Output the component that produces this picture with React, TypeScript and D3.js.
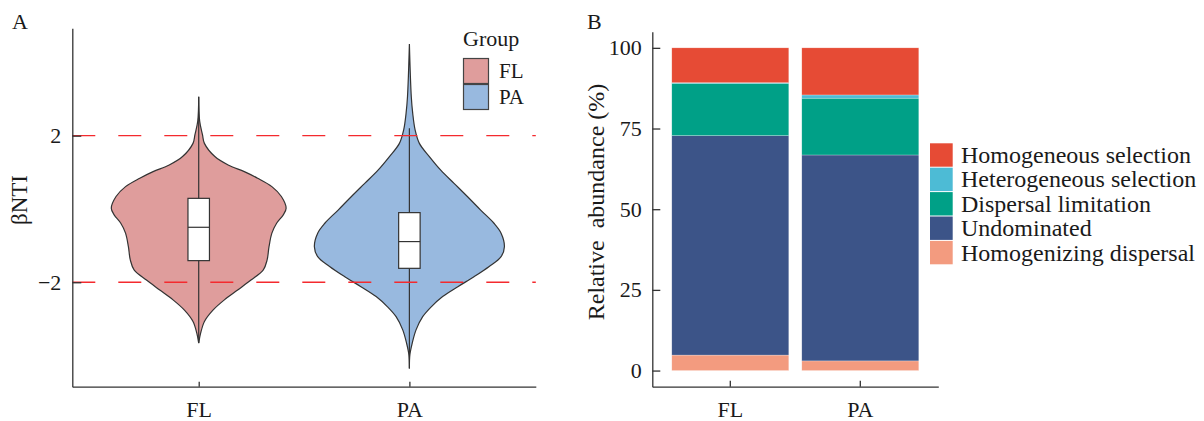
import React, { useRef, useEffect } from 'react';
import * as d3 from 'd3';

// ---- panel A data (violin profile) ----
const groups = ['FL', 'PA'];
const flViolinValues = [3.06, 2.40, 2.02, 1.79, 1.43, 1.20, 1.02, 0.84, 0.61, 0.34, 0.02, -0.16, -0.39, -0.66, -1.03, -1.39, -1.66, -1.94, -2.21, -2.48, -2.76, -3.07, -3.39, -3.66];
const flViolinDensity = [0, 0.01, 0.04, 0.06, 0.17, 0.31, 0.48, 0.62, 0.77, 0.87, 0.92, 0.89, 0.82, 0.77, 0.74, 0.72, 0.68, 0.55, 0.41, 0.27, 0.15, 0.06, 0.02, 0];
const paViolinValues = [4.50, 3.06, 2.61, 2.16, 1.79, 1.43, 1.06, 0.70, 0.34, -0.03, -0.39, -0.66, -1.03, -1.30, -1.57, -1.85, -2.12, -2.39, -2.67, -2.94, -3.30, -3.66, -3.98, -4.35];
const paViolinDensity = [0, 0.02, 0.035, 0.06, 0.105, 0.21, 0.33, 0.47, 0.61, 0.75, 0.89, 0.965, 1.0, 0.965, 0.84, 0.68, 0.51, 0.35, 0.23, 0.14, 0.07, 0.03, 0.005, 0];
const boxQ1 = [-1.41, -1.62];
const boxMedian = [-0.50, -0.89];
const boxQ3 = [0.29, -0.10];
const whiskerLow = [-3.66, -4.35];
const whiskerHigh = [3.06, 2.2];
const thresholds = [2, -2];
const yTicksA = [2, -2];
const groupColors = ['#DF9D9C', '#98B9DF'];

// ---- panel B data ----
const processes = ['Homogenizing dispersal', 'Undominated', 'Dispersal limitation', 'Heterogeneous selection', 'Homogeneous selection'];
const flShares = [4.8, 68.0, 16.2, 0.2, 10.8];
const paShares = [3.0, 63.8, 17.6, 1.0, 14.6];
const processColors = ['#F39B7F', '#3C5488', '#00A087', '#4DBBD5', '#E64B35'];
const yTicksB = [0, 25, 50, 75, 100];

const FONT = '"Liberation Serif", "Times New Roman", serif';
const INK = '#333';

const App = () => {
    const svgRef = useRef<SVGSVGElement>(null);

    useEffect(() => {
        const svg = d3.select(svgRef.current);
        svg.selectAll('*').remove();
        svg.style('font-family', FONT);

        // ================= Panel A =================
        const xA = d3.scalePoint().domain(groups).range([72.3, 535.8]).padding(0.6);
        const yA = d3.scaleLinear().domain([-4.85, 4.93]).range([386.7, 28.3]);
        const step = xA.step();
        const wScale = d3.scaleLinear().domain([0, 1]).range([0, 0.451 * step]);
        const boxW = 0.102 * step;

        const violins = [
            groups[0] && flViolinValues.map((v, i) => ({ v, d: flViolinDensity[i] })),
            paViolinValues.map((v, i) => ({ v, d: paViolinDensity[i] })),
        ];

        const gA = svg.append('g');
        groups.forEach((grp, gi) => {
            const cx = xA(grp);
            const area = d3.area<any>()
                .y(d => yA(d.v))
                .x0(d => cx - wScale(d.d))
                .x1(d => cx + wScale(d.d))
                .curve(d3.curveCatmullRom);
            gA.append('path')
                .datum(violins[gi])
                .attr('d', area)
                .attr('fill', groupColors[gi])
                .attr('stroke', INK)
                .attr('stroke-width', 1.2);
            // whisker
            gA.append('line')
                .attr('x1', cx).attr('x2', cx)
                .attr('y1', yA(whiskerHigh[gi])).attr('y2', yA(whiskerLow[gi]))
                .attr('stroke', INK).attr('stroke-width', 1.2);
            // box
            gA.append('rect')
                .attr('x', cx - boxW / 2)
                .attr('y', yA(boxQ3[gi]))
                .attr('width', boxW)
                .attr('height', yA(boxQ1[gi]) - yA(boxQ3[gi]))
                .attr('fill', 'white')
                .attr('stroke', INK)
                .attr('stroke-width', 1.2);
            gA.append('line')
                .attr('x1', cx - boxW / 2).attr('x2', cx + boxW / 2)
                .attr('y1', yA(boxMedian[gi])).attr('y2', yA(boxMedian[gi]))
                .attr('stroke', INK).attr('stroke-width', 1.2);
        });

        // threshold lines
        gA.selectAll('.thr')
            .data(thresholds)
            .enter()
            .append('line')
            .attr('x1', xA.range()[0]).attr('x2', xA.range()[1])
            .attr('y1', d => yA(d)).attr('y2', d => yA(d))
            .attr('stroke', '#F42A2E')
            .attr('stroke-width', 1.4)
            .attr('stroke-dasharray', '23,23');

        const styleAxis = (ax: any) => {
            ax.select('.domain').attr('stroke', INK).attr('stroke-width', 1.3);
            ax.selectAll('.tick line').attr('stroke', INK).attr('stroke-width', 1.3);
            ax.selectAll('.tick text').attr('fill', '#1a1a1a').style('font-family', FONT).style('font-size', '22px');
        };

        const axAy = gA.append('g')
            .attr('transform', `translate(${xA.range()[0]},0)`)
            .call(d3.axisLeft(yA).tickValues(yTicksA).tickSize(-9).tickSizeOuter(0).tickPadding(11)
                .tickFormat(d => (d < 0 ? '\u2212' : '') + Math.abs(d)));
        styleAxis(axAy);

        const axAx = gA.append('g')
            .attr('transform', `translate(0,${yA.range()[0]})`)
            .call(d3.axisBottom(xA).tickSize(-5).tickSizeOuter(0));
        styleAxis(axAx);
        axAx.selectAll('.tick text').attr('dy', null).attr('y', 30.3);

        gA.append('text')
            .attr('transform', `translate(27,200) rotate(-90)`)
            .attr('text-anchor', 'middle')
            .style('font-size', '23px')
            .attr('fill', '#1a1a1a')
            .text('βNTI');

        gA.append('text').attr('x', 12).attr('y', 29).style('font-size', '22px').attr('fill', '#1a1a1a').text('A');

        // legend A
        const legA = gA.append('g').attr('transform', 'translate(463,0)');
        legA.append('text').attr('x', 0).attr('y', 46).style('font-size', '22px').attr('fill', '#1a1a1a').text('Group');
        groups.forEach((grp, i) => {
            legA.append('rect')
                .attr('x', 0.5).attr('y', 58.5 + i * 26)
                .attr('width', 25).attr('height', 25)
                .attr('fill', groupColors[i])
                .attr('stroke', '#444').attr('stroke-width', 1.2);
            legA.append('text')
                .attr('x', 36).attr('y', 71 + i * 26)
                .attr('dominant-baseline', 'central')
                .style('font-size', '21px').attr('fill', '#1a1a1a')
                .text(grp);
        });

        // ================= Panel B =================
        const xB = d3.scaleBand().domain(groups).range([652.3, 938.3]).paddingInner(0.1).paddingOuter(0.15);
        const yB = d3.scaleLinear().domain([-5, 105]).range([386.7, 31.7]);

        const table = groups.map((grp, gi) => {
            const row: any = { group: grp };
            processes.forEach((p, pi) => { row[p] = (gi === 0 ? flShares : paShares)[pi]; });
            return row;
        });
        const series = d3.stack().keys(processes)(table);
        const color = d3.scaleOrdinal<string>().domain(processes).range(processColors);

        const gB = svg.append('g');
        gB.selectAll('.layer')
            .data(series)
            .enter()
            .append('g')
            .attr('fill', d => color(d.key))
            .selectAll('rect')
            .data(d => d)
            .enter()
            .append('rect')
            .attr('x', (d: any) => xB(d.data.group))
            .attr('width', xB.bandwidth())
            .attr('y', d => yB(d[1]))
            .attr('height', d => yB(d[0]) - yB(d[1]))
            .attr('stroke', 'white')
            .attr('stroke-opacity', 0.5)
            .attr('stroke-width', 0.5);

        const axBy = gB.append('g')
            .attr('transform', `translate(${xB.range()[0]},0)`)
            .call(d3.axisLeft(yB).tickValues(yTicksB).tickSize(-8).tickSizeOuter(0).tickPadding(10.6));
        styleAxis(axBy);

        const axBx = gB.append('g')
            .attr('transform', `translate(0,${yB.range()[0]})`)
            .call(d3.axisBottom(xB).tickSize(-6).tickSizeOuter(0));
        styleAxis(axBx);
        axBx.selectAll('.tick text').attr('dy', null).attr('y', 30.3);

        gB.append('text')
            .attr('transform', `translate(604,202) rotate(-90)`)
            .attr('text-anchor', 'middle')
            .style('font-size', '24px')
            .style('white-space', 'pre')
            .attr('fill', '#1a1a1a')
            .text('Relative  abundance (%)');

        gB.append('text').attr('x', 587).attr('y', 28.5).style('font-size', '22px').attr('fill', '#1a1a1a').text('B');

        // legend B (top of stack first)
        const legendOrder = processes.slice().reverse();
        const legB = gB.append('g').attr('transform', 'translate(930,143.3)');
        legendOrder.forEach((p, i) => {
            legB.append('rect')
                .attr('x', 0).attr('y', i * 24.4)
                .attr('width', 22.7).attr('height', 23.4)
                .attr('fill', color(p));
            legB.append('text')
                .attr('x', 31).attr('y', i * 24.4 + 11.7)
                .attr('dominant-baseline', 'central')
                .style('font-size', '24px').attr('fill', '#1a1a1a')
                .text(p);
        });
    }, []);

    return (
        <svg
            ref={svgRef}
            width={1204}
            height={421}
            style={{ position: 'absolute', left: 0, top: 0, background: 'white' }}
        />
    );
};

export default App;
